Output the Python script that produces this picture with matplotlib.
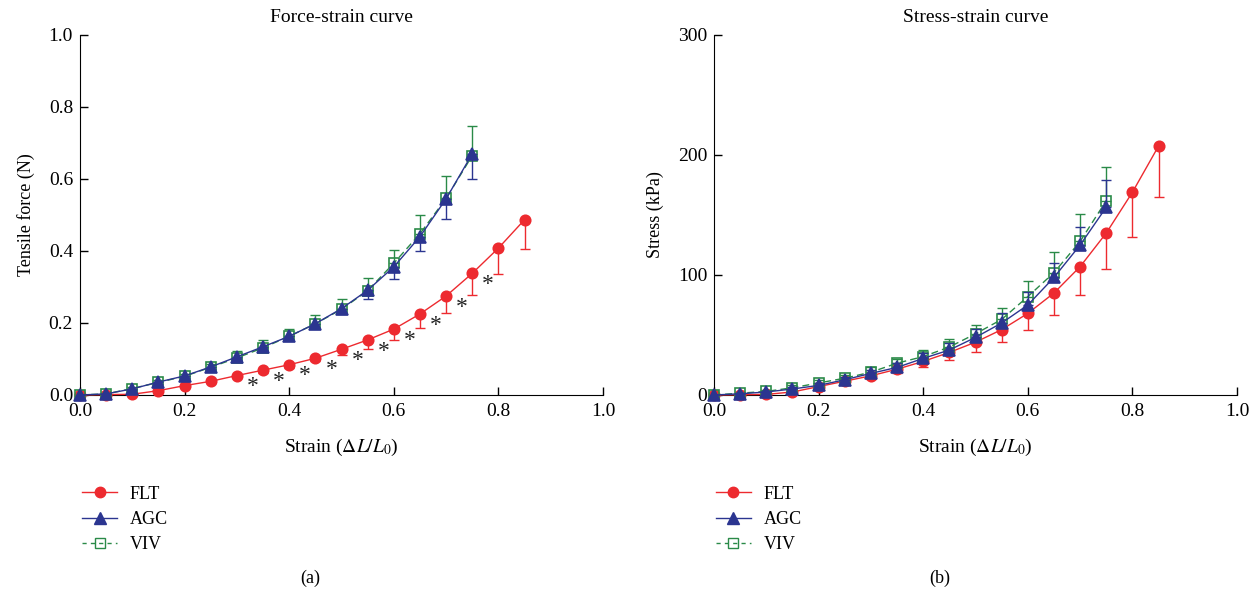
import matplotlib.pyplot as plt
from matplotlib.lines import Line2D
import numpy as np

plt.rcParams['font.family'] = ['Liberation Serif', 'DejaVu Serif']
plt.rcParams['mathtext.fontset'] = 'stix'

# strain steps
strain_flt = [0.0, 0.05, 0.1, 0.15, 0.2, 0.25, 0.3, 0.35, 0.4, 0.45, 0.5, 0.55, 0.6, 0.65, 0.7, 0.75, 0.8, 0.85]
strain_ctl = [0.0, 0.05, 0.1, 0.15, 0.2, 0.25, 0.3, 0.35, 0.4, 0.45, 0.5, 0.55, 0.6, 0.65, 0.7, 0.75]

# (a) tensile force (N): means and error bar ends
flt_force = [0, 0.001, 0.002, 0.012, 0.026, 0.038, 0.054, 0.069, 0.084, 0.102, 0.127, 0.153, 0.183, 0.225, 0.275, 0.338, 0.408, 0.487]
flt_force_low = [0, 0.001, 0.002, 0.010, 0.022, 0.033, 0.047, 0.061, 0.076, 0.094, 0.110, 0.129, 0.152, 0.187, 0.227, 0.277, 0.335, 0.406]
agc_force = [0, 0.003, 0.017, 0.036, 0.053, 0.078, 0.106, 0.134, 0.163, 0.198, 0.240, 0.291, 0.356, 0.440, 0.545, 0.670]
agc_force_low = [0, 0.002, 0.014, 0.031, 0.047, 0.071, 0.097, 0.124, 0.153, 0.187, 0.225, 0.266, 0.323, 0.400, 0.488, 0.601]
viv_force = [0, 0.003, 0.018, 0.035, 0.052, 0.077, 0.103, 0.131, 0.163, 0.198, 0.238, 0.290, 0.366, 0.448, 0.546, 0.665]
viv_force_high = [0, 0.005, 0.022, 0.041, 0.059, 0.087, 0.121, 0.152, 0.183, 0.223, 0.266, 0.324, 0.404, 0.500, 0.609, 0.746]
# significance marks (FLT vs controls) at these strains
sig_strain = [0.3, 0.35, 0.4, 0.45, 0.5, 0.55, 0.6, 0.65, 0.7, 0.75]

# (b) stress (kPa)
flt_stress = [0, 0.2, 0.5, 2.5, 7, 11.5, 16, 21.5, 28, 35.5, 44, 54.5, 68, 85, 107, 135, 169, 207.5]
flt_stress_low = [0, 0.1, 0.3, 1.8, 5.5, 9.5, 13, 18, 23, 29, 35.5, 44.5, 54, 67, 83, 105, 132, 165]
agc_stress = [0, 1.0, 2.5, 5, 8, 12.7, 18, 23, 30.5, 37.5, 48, 60, 75, 98, 125, 156.5]
agc_stress_high = [0, 1.5, 3.5, 6.5, 10, 15, 21, 27, 35, 43, 55, 68, 86, 110, 140, 179]
viv_stress = [0, 1.5, 3, 6, 10, 14, 19, 26.5, 32, 40, 51, 63, 82, 102, 128, 162]
viv_stress_high = [0, 2, 4, 8, 12.5, 17, 23, 30, 37.5, 46.5, 58.5, 72.5, 95, 119, 151, 190]

labels = ['FLT', 'AGC', 'VIV']

RED = '#ed2a2f'
BLUE = '#2b3590'
GREEN = '#2a8a48'
FS = 14


def draw_series(ax, x, y, end, color, marker, ls, below, mfc, ms, z):
    x = np.array(x)
    y = np.array(y)
    err = np.abs(y - np.array(end))
    zeros = np.zeros_like(err)
    yerr = [err, zeros] if below else [zeros, err]
    ax.errorbar(x, y, yerr=yerr, fmt='none', ecolor=color, elinewidth=1.0,
                capsize=3.5, capthick=1.0, zorder=z)
    ax.plot(x, y, color=color, ls=ls, lw=1.0, marker=marker, ms=ms,
            mfc=mfc, mec=color, mew=1.2, zorder=z + 0.5, clip_on=False)


def style_axes(ax, ymax, yticks, yfmt, ylabel, title):
    ax.set_xlim(0, 1.0)
    ax.set_ylim(0, ymax)
    xt = np.arange(0, 1.01, 0.2)
    ax.set_xticks(xt)
    ax.set_xticklabels([f'{t:.1f}' for t in xt])
    ax.set_yticks(yticks)
    ax.set_yticklabels([yfmt.format(t) for t in yticks])
    for s in ['top', 'right']:
        ax.spines[s].set_visible(False)
    ax.tick_params(direction='in', length=6, labelsize=FS, width=1, pad=5)
    ax.tick_params(axis='x', pad=6)
    ax.set_xlabel(r'Strain ($\Delta L/L_0$)', fontsize=FS, labelpad=12)
    ax.set_ylabel(ylabel, fontsize=13, labelpad=10)
    ax.set_title(title, fontsize=FS, pad=9.5)


fig = plt.figure(figsize=(12.6, 5.99), dpi=100)
ax1 = fig.add_axes([0.0635, 0.3406, 0.4151, 0.601])
ax2 = fig.add_axes([0.5667, 0.3406, 0.4151, 0.601])

# panel a
draw_series(ax1, strain_flt, flt_force, flt_force_low, RED, 'o', '-', True, RED, 7.5, 3)
draw_series(ax1, strain_ctl, viv_force, viv_force_high, GREEN, 's', (0, (5, 3)), False, 'none', 7, 4)
draw_series(ax1, strain_ctl, agc_force, agc_force_low, BLUE, '^', '-', True, BLUE, 8, 5)
for s in sig_strain:
    yv = flt_force[strain_flt.index(s)]
    ax1.annotate('*', (s, yv), xytext=(11.5, -8), textcoords='offset points',
                 ha='center', va='center', fontsize=17, color='#222222')
style_axes(ax1, 1.0, [0, 0.2, 0.4, 0.6, 0.8, 1.0], '{:.1f}', 'Tensile force (N)', 'Force-strain curve')

# panel b
draw_series(ax2, strain_flt, flt_stress, flt_stress_low, RED, 'o', '-', True, RED, 7.5, 3)
draw_series(ax2, strain_ctl, viv_stress, viv_stress_high, GREEN, 's', (0, (5, 3)), False, 'none', 7, 4)
draw_series(ax2, strain_ctl, agc_stress, agc_stress_high, BLUE, '^', '-', False, BLUE, 8, 5)
style_axes(ax2, 300, [0, 100, 200, 300], '{:.0f}', 'Stress (kPa)', 'Stress-strain curve')

handles = [
    Line2D([], [], color=RED, lw=1.0, marker='o', ms=7.5, mfc=RED, mec=RED),
    Line2D([], [], color=BLUE, lw=1.0, marker='^', ms=8, mfc=BLUE, mec=BLUE),
    Line2D([], [], color=GREEN, lw=1.0, ls=(0, (3, 3)), marker='s', ms=7, mfc='none', mec=GREEN),
]
for x0 in [0.065, 0.568]:
    fig.legend(handles, labels, loc='upper left', bbox_to_anchor=(x0, 0.189),
               frameon=False, fontsize=13, handlelength=1.95, handletextpad=0.7,
               labelspacing=0.45, borderpad=0, borderaxespad=0)

fig.text(0.246, 0.035, '(a)', ha='center', va='center', fontsize=13)
fig.text(0.746, 0.035, '(b)', ha='center', va='center', fontsize=13)

fig.savefig('out.png', dpi=100)
